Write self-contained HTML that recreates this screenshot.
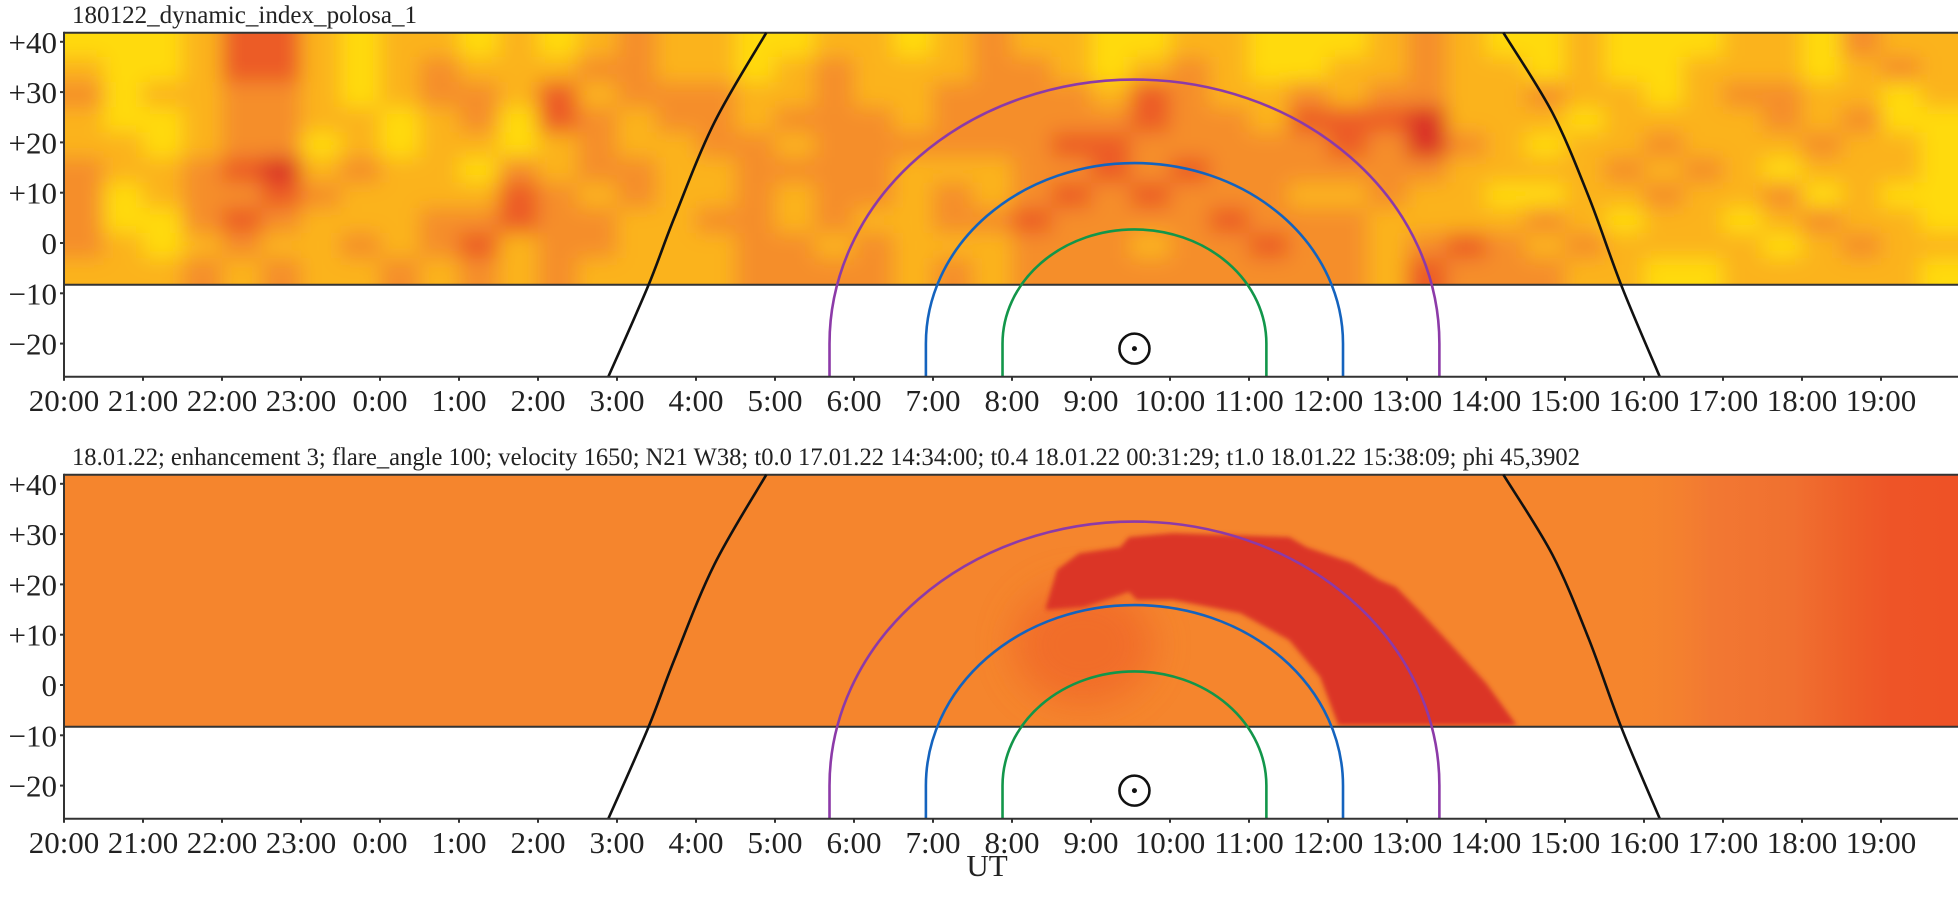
<!DOCTYPE html>
<html><head><meta charset="utf-8"><style>
html,body{margin:0;padding:0;background:#fff;}
svg{display:block;font-family:"Liberation Serif",serif;}
</style></head><body>
<svg id="chart" width="1958" height="902" viewBox="0 0 1958 902" xmlns="http://www.w3.org/2000/svg">
<defs>
<filter id="blur" x="-5%" y="-5%" width="110%" height="110%"><feGaussianBlur stdDeviation="10"/></filter>
<filter id="blur2"><feGaussianBlur stdDeviation="2.5"/></filter>
<filter id="blur3" x="-50%" y="-50%" width="200%" height="200%"><feGaussianBlur stdDeviation="18"/></filter>
<clipPath id="clipTop"><rect x="64" y="33" width="1894" height="252"/></clipPath>
<clipPath id="clipBot"><rect x="64" y="473" width="1894" height="253"/></clipPath>
<linearGradient id="rightGrad" x1="0" x2="1" y1="0" y2="0">
<stop offset="0" stop-color="#F5852D" stop-opacity="0"/><stop offset="0.25" stop-color="#F27832"/><stop offset="0.5" stop-color="#F07030"/><stop offset="0.68" stop-color="#EE5E29"/><stop offset="0.8" stop-color="#EE5427"/><stop offset="1" stop-color="#EE5226"/>
</linearGradient>
</defs>
<g id="top"></g>
<g id="bot"></g>
<text x="72" y="23" font-size="25" fill="#222" textLength="345" lengthAdjust="spacingAndGlyphs">180122_dynamic_index_polosa_1</text>
<text x="72" y="465" font-size="25" fill="#222" textLength="1508" lengthAdjust="spacingAndGlyphs">18.01.22; enhancement 3; flare_angle 100; velocity 1650; N21 W38; t0.0 17.01.22 14:34:00; t0.4 18.01.22 00:31:29; t1.0 18.01.22 15:38:09; phi 45,3902</text>
<text x="987" y="876" font-size="31" fill="#222" text-anchor="middle">UT</text>
</svg>
<script>
// ---- data ----
const xTickLabels = ["20:00","21:00","22:00","23:00","0:00","1:00","2:00","3:00","4:00","5:00","6:00","7:00","8:00","9:00","10:00","11:00","12:00","13:00","14:00","15:00","16:00","17:00","18:00","19:00"];
const yTickValues = [40,30,20,10,0,-10,-20];
const yTickLabels = ["+40","+30","+20","+10","0","\u221210","\u221220"];
const latTop = 41.8, latHeatBottom = -8.3, latAxisBottom = -26.6;
const heatRowTopLats = [42,37,32,27,22,17,12,7,2,-3];
const heatColHours = [];
for (let i = 0; i < 48; i++) heatColHours.push(i * 0.5);
const heatGrid = [
[0,0,0,1,3,3,1,0,1,1,0,1,0,1,2,1,1,0,0,1,1,0,1,2, 1,1,0,0,1,1,0,0,0,1,2,1,0,0,1,0,0,0,1,1,0,2,1,1],
[1,0,0,1,3,3,1,0,1,2,1,1,1,2,2,1,1,0,1,2,1,1,1,2, 2,1,0,1,2,1,0,0,1,1,2,1,1,0,1,0,0,1,1,1,0,1,2,1],
[2,0,1,1,2,2,1,0,1,2,2,1,3,1,2,2,2,1,1,2,1,1,2,2, 2,2,1,3,2,1,1,2,1,2,2,1,1,2,1,1,0,1,2,2,1,1,0,1],
[1,0,0,1,2,2,1,1,0,1,2,0,3,2,1,2,2,1,2,2,2,1,2,2, 2,2,2,3,2,2,1,3,3,3,4,1,1,1,0,1,1,1,1,2,1,2,0,0],
[1,1,0,1,2,2,0,1,0,1,1,0,1,2,1,1,2,2,1,2,2,2,2,2, 2,3,3,2,2,2,2,2,3,2,4,2,1,0,1,1,2,1,1,1,2,1,1,0],
[2,1,1,2,3,4,1,2,1,1,0,2,1,2,2,1,1,2,2,2,2,1,1,1, 2,2,3,2,3,2,2,2,2,2,2,1,1,1,1,2,1,2,1,0,1,1,1,0],
[2,0,1,2,2,3,2,1,1,1,1,3,2,1,2,1,1,2,1,2,2,1,2,1, 2,3,2,3,2,2,2,1,1,2,1,1,0,0,1,1,2,1,1,2,0,1,0,0],
[2,0,0,2,3,2,1,1,1,2,2,3,2,2,1,1,2,2,1,2,1,1,2,2, 3,2,2,2,2,3,2,2,2,1,1,1,1,2,1,0,1,1,0,1,2,1,1,0],
[2,1,0,1,2,1,1,2,1,2,3,1,2,2,1,1,1,2,2,1,2,1,1,1, 2,2,2,1,2,2,3,2,2,1,2,3,2,1,2,1,1,1,1,0,1,2,1,1],
[1,1,1,2,1,2,1,1,2,1,2,1,2,1,1,1,1,2,2,2,2,1,2,1, 2,2,2,2,2,2,2,2,2,1,3,2,2,2,1,1,0,0,1,1,1,1,1,0]
];
const heatColors = ["#FFDA0B","#FBB31C","#F58E2A","#EC5C26","#DA3228"];
// enhancement band (bottom panel), hours since 20:00 and latitude
const bandHours = [12.43,12.57,12.85,13.37,13.48,14.04,15.51,15.73,16.30,16.65,16.86,17.15,17.54,18.0,18.39, 16.13,15.9,15.51,14.89,14.04,13.58,13.48,13.3,12.91,12.43];
const bandLats  = [15.5,22.9,26.2,27.4,29.4,30.2,29.4,27.4,24.3,20.9,19.5,14.9,8.3,0.4,-8.0, -8.0,1.6,8.9,14.3,16.9,16.9,18.5,17.5,15.5,14.9];
// terminator-like black curves
const leftCurveHours = [6.89,7.39,7.73,8.23,8.89];
const leftCurveLats  = [-26.6,-8.7,5.2,23.9,41.8];
const rightCurveHours = [18.22,18.84,19.3,19.72,20.2];
const rightCurveLats  = [41.8,25.9,9.2,-8.7,-26.6];
// arcs around the sun position
const arcCenterHour = 13.55, arcCenterLat = -20;
const arcNames = ["green-arc","blue-arc","purple-arc"];
const arcRadiusHours = [1.67,2.64,3.86];
const arcRadiusLats = [22.7,35.9,52.5];
const arcColors = ["#12964A","#1463BE","#8C3AA8"];
const sunHour = 13.55, sunLat = -21;

// ---- scales ----
const NS = "http://www.w3.org/2000/svg";
const X = h => 64 + h * 79;
function mk(tag, attrs, parent) {
  const e = document.createElementNS(NS, tag);
  for (const k in attrs) e.setAttribute(k, attrs[k]);
  parent.appendChild(e);
  return e;
}
function smoothPath(pts) {
  let d = "M" + pts[0][0].toFixed(1) + "," + pts[0][1].toFixed(1);
  for (let i = 0; i < pts.length - 1; i++) {
    const p0 = pts[Math.max(0, i - 1)], p1 = pts[i], p2 = pts[i + 1], p3 = pts[Math.min(pts.length - 1, i + 2)];
    const c1x = p1[0] + (p2[0] - p0[0]) / 6, c1y = p1[1] + (p2[1] - p0[1]) / 6;
    const c2x = p2[0] - (p3[0] - p1[0]) / 6, c2y = p2[1] - (p3[1] - p1[1]) / 6;
    d += "C" + c1x.toFixed(1) + "," + c1y.toFixed(1) + " " + c2x.toFixed(1) + "," + c2y.toFixed(1) + " " + p2[0].toFixed(1) + "," + p2[1].toFixed(1);
  }
  return d;
}
function drawPanel(g, y0, clipId, isTop) {
  const Y = lat => y0 - lat * 5.03;
  const yT = Y(latTop), yH = Y(latHeatBottom), yB = Y(latAxisBottom);
  const hm = mk("g", {"clip-path": "url(#" + clipId + ")"}, g);
  
  
  if (isTop) {
    mk("rect", {x: 64, y: yT, width: 1894, height: yH - yT, fill: "#F8A322"}, hm);
    const cells = mk("g", {filter: "url(#blur)"}, hm);
    for (let r = 0; r < heatGrid.length; r++) {
      for (let c = 0; c < heatColHours.length; c++) {
        const v = heatGrid[r][c];
        const x1 = X(heatColHours[c]), x2 = X(heatColHours[c] + 0.5);
        const y1 = Y(heatRowTopLats[r]), y2 = Y(heatRowTopLats[r] - 5);
        const cell = mk("rect", {x: x1 - (c === 0 ? 25 : 0), y: y1 - (r === 0 ? 25 : 0), width: x2 - x1 + 0.5 + (c === 0 ? 25 : 0) + (c === 47 ? 25 : 0), height: y2 - y1 + 0.5 + (r === 0 ? 25 : 0) + (r === 9 ? 25 : 0), fill: heatColors[v]}, cells);
        
        
      }
    }
  } else {
    mk("rect", {x: 64, y: yT, width: 1894, height: yH - yT, fill: "#F5852D"}, hm);
    const rg = mk("rect", {x: X(19.8), y: yT, width: 1958 - X(19.8), height: yH - yT, fill: "url(#rightGrad)"}, hm);
    
    
    const haze = mk("ellipse", {cx: X(12.9), cy: Y(8), rx: 70, ry: 60, fill: "#EE5A28", opacity: 0.55, filter: "url(#blur3)"}, hm);
    
    
    let d = "";
    for (let i = 0; i < bandHours.length; i++) d += (i ? "L" : "M") + X(bandHours[i]).toFixed(1) + "," + Y(bandLats[i]).toFixed(1);
    const band = mk("path", {d: d + "Z", fill: "#DB3428", filter: "url(#blur2)"}, hm);
    
    
  }
  // heatmap borders
  mk("line", {x1: 64, x2: 1958, y1: yT, y2: yT, stroke: "#333", "stroke-width": 2}, g);
  mk("line", {x1: 64, x2: 1958, y1: yH, y2: yH, stroke: "#333", "stroke-width": 2}, g);
  // arcs
  const cy = Y(arcCenterLat), cx = X(arcCenterHour);
  for (let i = 0; i < arcRadiusHours.length; i++) {
    const rx = arcRadiusHours[i] * 79, ry = arcRadiusLats[i] * 5.03;
    const d = "M" + (cx - rx) + "," + yB + "L" + (cx - rx) + "," + cy + "A" + rx + "," + ry + " 0 0 1 " + (cx + rx) + "," + cy + "L" + (cx + rx) + "," + yB;
    const arc = mk("path", {d: d, fill: "none", stroke: arcColors[i], "stroke-width": 2.6}, g);
    
    
  }
  // black curves
  [[leftCurveHours, leftCurveLats, "left-black-curve"], [rightCurveHours, rightCurveLats, "right-black-curve"]].forEach(cv => {
    const pts = cv[0].map((h, i) => [X(h), Y(cv[1][i])]);
    const p = mk("path", {d: smoothPath(pts), fill: "none", stroke: "#111", "stroke-width": 2.6}, g);
    
    
  });
  // sun symbol
  const sun = mk("g", {}, g);
  
  
  mk("circle", {cx: X(sunHour), cy: Y(sunLat), r: 15, fill: "none", stroke: "#111", "stroke-width": 2.6}, sun);
  mk("circle", {cx: X(sunHour), cy: Y(sunLat), r: 2.5, fill: "#111"}, sun);
  // axes
  const ax = mk("g", {}, g);
  
  
  mk("line", {x1: 64, x2: 64, y1: yT - 1, y2: yB + 1, stroke: "#333", "stroke-width": 2}, ax);
  mk("line", {x1: 63, x2: 1958, y1: yB, y2: yB, stroke: "#333", "stroke-width": 2}, ax);
  for (let i = 0; i < yTickValues.length; i++) {
    const y = Y(yTickValues[i]);
    mk("line", {x1: 60, x2: 64, y1: y, y2: y, stroke: "#333", "stroke-width": 2}, ax);
    const t = mk("text", {x: 57, y: y + 11, "font-size": 31, "text-anchor": "end", fill: "#222"}, ax);
    t.textContent = yTickLabels[i];
    
    
  }
  for (let i = 0; i < xTickLabels.length; i++) {
    const x = X(i);
    mk("line", {x1: x, x2: x, y1: yB, y2: yB + 4, stroke: "#333", "stroke-width": 2}, ax);
    const t = mk("text", {x: x, y: yB + 34, "font-size": 31, "text-anchor": "middle", fill: "#222"}, ax);
    t.textContent = xTickLabels[i];
    
    
  }
}
drawPanel(document.getElementById("top"), 243, "clipTop", true);
drawPanel(document.getElementById("bot"), 685, "clipBot", false);
</script>
</body></html>
